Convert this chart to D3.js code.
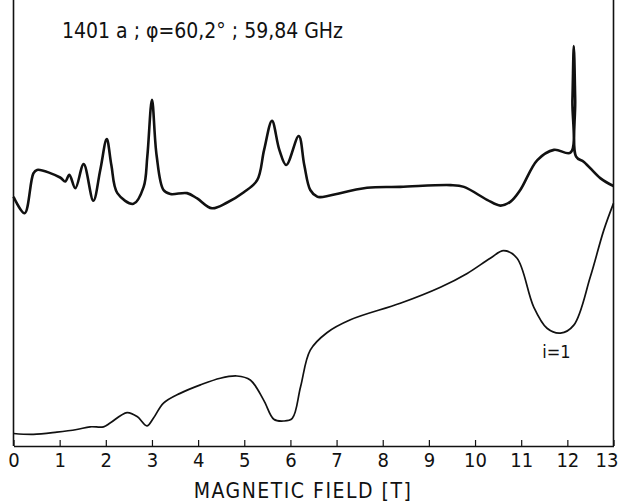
<!DOCTYPE html>
<html>
<head>
<meta charset="utf-8">
<script src="https://cdn.jsdelivr.net/npm/d3@7/dist/d3.min.js"></script>
<style>
  html, body { margin: 0; padding: 0; background: #fff; }
  svg { display: block; }
  .lbl { font-family: "DejaVu Sans", sans-serif; font-stretch: condensed; fill: #111; }
</style>
</head>
<body>
<svg id="chart" width="620" height="502"></svg>
<script>
// Magnetic field values (T) and signals (arbitrary units) for the two recorded traces
const upperField = [0.00, 0.24, 0.43, 0.51, 1.01, 1.12, 1.21, 1.34, 1.52, 1.73, 1.88, 2.02, 2.12, 2.25, 2.60, 2.82, 2.90, 3.00, 3.10, 3.25, 3.40, 3.76, 3.98, 4.30, 4.63, 4.99, 5.28, 5.43, 5.60, 5.76, 5.91, 6.18, 6.30, 6.43, 6.58, 6.65, 7.66, 8.38, 9.47, 9.76, 10.26, 10.55, 10.77, 10.98, 11.35, 11.71, 12.07, 12.11, 12.14, 12.17, 12.19, 12.36, 12.72, 13.00];
const upperSignal = [5.59, 5.22, 6.11, 6.19, 6.02, 5.93, 6.08, 5.78, 6.32, 5.50, 6.19, 6.88, 6.30, 5.67, 5.43, 5.81, 6.50, 7.76, 6.52, 5.74, 5.65, 5.67, 5.55, 5.33, 5.46, 5.69, 5.96, 6.64, 7.29, 6.64, 6.30, 6.95, 6.30, 5.74, 5.59, 5.58, 5.79, 5.81, 5.85, 5.81, 5.52, 5.39, 5.48, 5.74, 6.41, 6.64, 6.58, 7.76, 8.97, 7.76, 6.49, 6.37, 6.00, 5.83];

const lowerField = [0.00, 0.43, 0.94, 1.37, 1.66, 1.95, 2.10, 2.46, 2.68, 2.89, 3.03, 3.25, 3.61, 4.05, 4.48, 4.84, 5.13, 5.42, 5.64, 5.85, 6.04, 6.22, 6.43, 6.79, 7.30, 8.38, 9.25, 9.83, 10.33, 10.62, 10.91, 11.27, 11.56, 11.85, 12.14, 12.50, 12.79, 13.00];
const lowerSignal = [0.28, 0.26, 0.31, 0.37, 0.43, 0.43, 0.52, 0.75, 0.66, 0.45, 0.62, 0.96, 1.18, 1.37, 1.52, 1.57, 1.48, 1.03, 0.60, 0.56, 0.62, 1.33, 2.15, 2.54, 2.83, 3.20, 3.56, 3.87, 4.21, 4.38, 4.21, 3.12, 2.64, 2.53, 2.71, 3.80, 4.84, 5.44];

const tickValues = [0, 1, 2, 3, 4, 5, 6, 7, 8, 9, 10, 11, 12, 13];
const titleText = "1401 a ;  φ=60,2°  ;  59,84 GHz";
const xAxisLabel = "MAGNETIC  FIELD [T]";
const peakLabel = { field: 11.85, signal: 2.53, text: "i=1" };

const svg = d3.select("#chart");
const plotLeft = 13.5, plotRight = 613.5, plotBottom = 446, plotTop = 0;

const x = d3.scaleLinear().domain([0, 13]).range([plotLeft, plotRight]);
const y = d3.scaleLinear().domain([0, 10]).range([plotBottom, plotTop]);

// frame: left and right verticals
svg.append("line").attr("x1", plotLeft).attr("x2", plotLeft).attr("y1", plotTop).attr("y2", plotBottom)
  .attr("stroke", "#111").attr("stroke-width", 1.6);
svg.append("line").attr("x1", plotRight).attr("x2", plotRight).attr("y1", plotTop).attr("y2", plotBottom)
  .attr("stroke", "#111").attr("stroke-width", 1.6);

// bottom axis with inward ticks
const axis = d3.axisBottom(x).tickValues(tickValues).tickSizeInner(-6).tickSizeOuter(0).tickPadding(7)
  .tickFormat(d3.format("d"));
const gx = svg.append("g").attr("transform", `translate(0,${plotBottom})`).call(axis);
gx.select(".domain").attr("stroke", "#111").attr("stroke-width", 1.6);
gx.selectAll(".tick line").attr("stroke", "#111").attr("stroke-width", 1.2);
gx.selectAll(".tick text").attr("class", "lbl").attr("font-size", 20).attr("fill", "#111")
  .attr("dx", d => d === 13 ? -7 : 0);

svg.append("text").attr("class", "lbl")
  .attr("x", 303).attr("y", 498).attr("text-anchor", "middle")
  .attr("font-size", 21).attr("letter-spacing", 1.5)
  .text(xAxisLabel);

svg.append("text").attr("class", "lbl")
  .attr("x", 62).attr("y", 38).attr("font-size", 21)
  .text(titleText);

const line = d3.line().curve(d3.curveCatmullRom.alpha(0.5))
  .x(d => x(d[0])).y(d => y(d[1]));

svg.append("path")
  .datum(d3.zip(upperField, upperSignal))
  .attr("fill", "none").attr("stroke", "#111").attr("stroke-width", 2.6)
  .attr("stroke-linejoin", "round")
  .attr("d", line);

svg.append("path")
  .datum(d3.zip(lowerField, lowerSignal))
  .attr("fill", "none").attr("stroke", "#111").attr("stroke-width", 1.7)
  .attr("d", line);

svg.append("text").attr("class", "lbl")
  .attr("x", x(peakLabel.field) - 4).attr("y", y(peakLabel.signal) + 25)
  .attr("text-anchor", "middle").attr("font-size", 18)
  .text(peakLabel.text);
</script>
</body>
</html>
